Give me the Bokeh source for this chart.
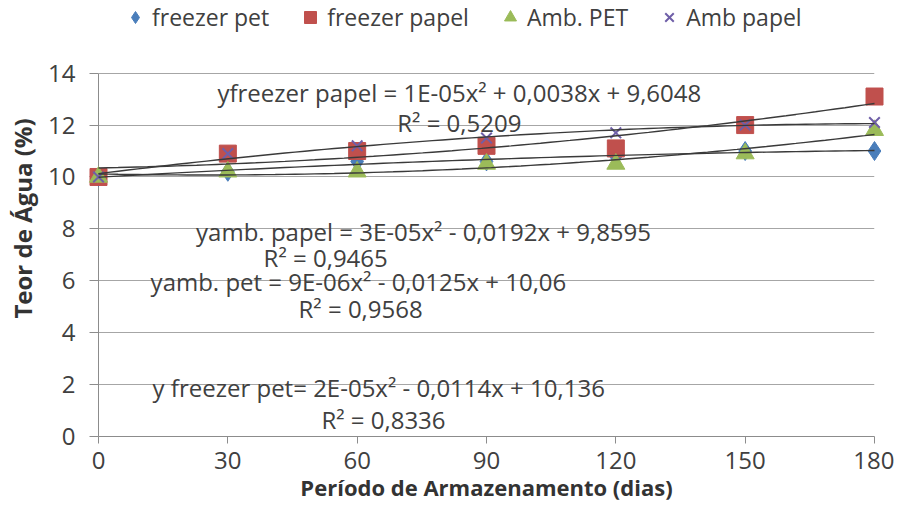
import numpy as np
from bokeh.plotting import figure
from bokeh.models import Legend, LegendItem, FixedTicker, ColumnDataSource
from bokeh.core.properties import value
from bokeh.embed import file_html
from bokeh.resources import INLINE

# ---- data ----
dias = [0, 30, 60, 90, 120, 150, 180]
freezer_pet = [10.0, 10.2, 10.6, 10.6, 10.8, 11.0, 11.0]
freezer_papel = [10.0, 10.9, 11.0, 11.2, 11.1, 12.0, 13.1]
amb_pet = [10.0, 10.2, 10.2, 10.5, 10.5, 10.9, 11.8]
amb_papel = [10.0, 10.9, 11.2, 11.5, 11.7, 12.0, 12.1]

series_names = ["freezer pet", "freezer papel", "Amb. PET", "Amb papel"]
x_ticks = [0, 30, 60, 90, 120, 150, 180]
y_ticks = [0, 2, 4, 6, 8, 10, 12, 14]

eq_text = [
    "yfreezer papel = 1E-05x² + 0,0038x + 9,6048",
    "R² = 0,5209",
    "yamb. papel = 3E-05x² - 0,0192x + 9,8595",
    "R² = 0,9465",
    "yamb. pet = 9E-06x² - 0,0125x + 10,06",
    "R² = 0,9568",
    "y freezer pet= 2E-05x² - 0,0114x + 10,136",
    "R² = 0,8336",
]
# label anchors (data units)
eq_x = [83.7, 83.7, 75.4, 52.7, 60.3, 60.8, 65.0, 66.1]
eq_y = [13.27, 12.1, 7.9, 6.9, 5.98, 4.94, 1.89, 0.66]

FONT = "Open Sans"
TXT = "#404040"

# frame extends to the top of the canvas so the legend can sit above the 0-14 axis
p = figure(width=894, height=509, output_backend="svg", toolbar_location=None,
           x_range=(0, 180), y_range=(0, 16.8),
           min_border_left=98, min_border_right=20, min_border_top=0, min_border_bottom=73)
p.outline_line_color = None
p.background_fill_color = "white"
p.border_fill_color = "white"

# axes
p.xaxis.ticker = FixedTicker(ticks=x_ticks)
p.yaxis.ticker = FixedTicker(ticks=y_ticks)
p.yaxis.bounds = (0, 14)
for ax in (p.xaxis[0], p.yaxis[0]):
    ax.major_label_text_font = FONT
    ax.major_label_text_font_size = "24px"
    ax.major_label_text_color = TXT
    ax.axis_label_text_font = FONT
    ax.axis_label_text_font_style = "bold"
    ax.axis_label_text_color = "#333333"
    ax.axis_line_color = "#8c8c8c"
    ax.major_tick_line_color = "#8c8c8c"
    ax.minor_tick_line_color = None
    ax.major_tick_in = 0
p.xaxis.major_tick_out = 7
p.yaxis.major_tick_out = 9
p.xaxis.major_label_standoff = 8
p.yaxis.major_label_standoff = 14
p.xaxis.axis_label = "Período de Armazenamento (dias)"
p.yaxis.axis_label = "Teor de Água (%)"
p.xaxis.axis_label_text_font_size = "22px"
p.yaxis.axis_label_text_font_size = "24px"
p.xaxis.axis_label_standoff = 0
p.yaxis.axis_label_standoff = 6

p.xgrid.grid_line_color = None
p.ygrid.grid_line_color = "#a6a6a6"
p.ygrid.grid_line_width = 1

# trend lines (quadratic least squares fits of the data)
xs_fit = np.linspace(0, 180, 80)
all_series = [freezer_pet, freezer_papel, amb_pet, amb_papel]

styles = [
    dict(marker="diamond", size=19, fill_color="#4a7ebb", line_color="#4a7ebb"),
    dict(marker="square", size=17, fill_color="#c0504d", line_color="#c0504d"),
    dict(marker="triangle", size=18, fill_color="#9bbb59", line_color="#9bbb59"),
    dict(marker="x", size=15, fill_color=None, line_color="#6f5fa8", line_width=2),
]

renderers = []
for ys, st in zip(all_series, styles):
    src = ColumnDataSource(dict(x=dias, y=ys))
    r = p.scatter("x", "y", source=src, level="overlay", **st)
    renderers.append(r)

for ys in all_series:
    coef = np.polyfit(dias, ys, 2)
    p.line(xs_fit, np.polyval(coef, xs_fit), line_color="#3a3a3a", line_width=1.4, level="overlay")

# equations
p.text(x=eq_x, y=eq_y, text=eq_text, text_font=value(FONT), text_font_size="24px",
       text_color=TXT, text_align="center", text_baseline="middle")

# legend
items = [LegendItem(label=n, renderers=[r]) for n, r in zip(series_names, renderers)]
legend = Legend(items=items, orientation="horizontal", location=(22, 403),
                label_text_font=FONT, label_text_font_size="23px", label_text_color=TXT,
                border_line_color=None, background_fill_alpha=0,
                glyph_width=30, glyph_height=30, label_standoff=2, spacing=26,
                padding=0, margin=0)
p.add_layout(legend, "center")

open("out.html", "w").write(file_html(p, INLINE))
